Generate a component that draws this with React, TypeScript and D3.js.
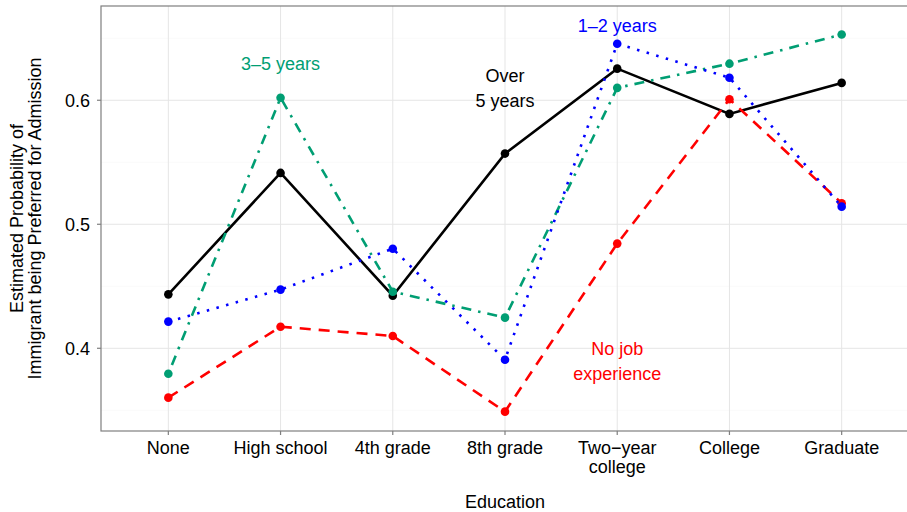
import React from 'react';
import * as d3 from 'd3';

const categories = ['None', 'High school', '4th grade', '8th grade', 'Two−year\ncollege', 'College', 'Graduate'];

const overFive = [0.4435, 0.5414, 0.4424, 0.557, 0.6255, 0.589, 0.614];
const threeToFive = [0.3795, 0.602, 0.4456, 0.4247, 0.61, 0.6295, 0.653];
const oneToTwo = [0.4215, 0.4473, 0.4803, 0.3908, 0.6456, 0.6182, 0.5142];
const noJob = [0.3602, 0.4174, 0.4099, 0.3489, 0.4844, 0.6008, 0.517];

const yTicks = [0.4, 0.5, 0.6];
const yMinor = [0.35, 0.45, 0.55, 0.65];

const series = [
  { name: 'Over 5 years', values: overFive, color: '#000000', dash: null },
  { name: '3–5 years', values: threeToFive, color: '#009E73', dash: '2.5,7,10,7' },
  { name: 'No job experience', values: noJob, color: '#FF0000', dash: '11,8' },
  { name: '1–2 years', values: oneToTwo, color: '#0000FF', dash: '2.5,7.5' },
];

// label placement: category index + value, lines split by \n
const annotations = [
  { text: '3–5 years', cat: 1, value: 0.63, color: '#009E73' },
  { text: '1–2 years', cat: 4, value: 0.66, color: '#0000FF' },
  { text: 'Over\n5 years', cat: 3, value: 0.6095, color: '#000000' },
  { text: 'No job\nexperience', cat: 4, value: 0.3894, color: '#FF0000' },
];

const W = 907;
const H = 512;
const left = 101;
const top = 6;
const bottom = 431;
const right = 909;
const fs = 18;
const font = '"Liberation Sans", Arial, Helvetica, sans-serif';

const App: React.FC = () => {
  const x = d3.scalePoint<string>().domain(categories).range([left, right]).padding(0.6);
  const y = d3.scaleLinear().domain([0.3333, 0.676]).range([bottom, top]);

  const line = d3.line<number>()
    .x((_, i) => x(categories[i]) as number)
    .y(d => y(d));

  return (
    <svg width={W} height={H} style={{ position: 'absolute', left: 0, top: 0, background: '#fff' }} fontFamily={font}>
      {/* grid */}
      {yMinor.map(v => (
        <line key={'mn' + v} x1={left} x2={right} y1={y(v)} y2={y(v)} stroke="#FAFAFA" strokeWidth={1} />
      ))}
      {yTicks.map(v => (
        <line key={'mj' + v} x1={left} x2={right} y1={y(v)} y2={y(v)} stroke="#E5E5E5" strokeWidth={1} />
      ))}
      {categories.map(c => (
        <line key={'gx' + c} x1={x(c)} x2={x(c)} y1={top} y2={bottom} stroke="#E5E5E5" strokeWidth={1} />
      ))}

      {/* panel border */}
      <rect x={left} y={top} width={right - left} height={bottom - top} fill="none" stroke="#7F7F7F" strokeWidth={1.2} />

      {/* series */}
      {series.map(s => (
        <g key={s.name}>
          <path d={line(s.values) as string} fill="none" stroke={s.color} strokeWidth={2.6}
            strokeDasharray={s.dash ?? undefined} />
          {s.values.map((v, i) => (
            <circle key={i} cx={x(categories[i])} cy={y(v)} r={4.3} fill={s.color} />
          ))}
        </g>
      ))}

      {/* annotations */}
      {annotations.map(a => {
        const lines = a.text.split('\n');
        const cy = y(a.value);
        const start = cy - ((lines.length - 1) * 25) / 2;
        return (
          <text key={a.text} textAnchor="middle" fill={a.color} fontSize={fs}>
            {lines.map((l, i) => (
              <tspan key={i} x={x(categories[a.cat])} y={start + i * 25} dy="0.36em">{l}</tspan>
            ))}
          </text>
        );
      })}

      {/* y axis */}
      {yTicks.map(v => (
        <g key={'yt' + v}>
          <line x1={left - 4} x2={left} y1={y(v)} y2={y(v)} stroke="#7F7F7F" strokeWidth={1.2} />
          <text x={left - 11} y={y(v)} dy="0.36em" textAnchor="end" fontSize={fs} fill="#000">{v.toFixed(1)}</text>
        </g>
      ))}
      <text transform={`translate(23, ${(top + bottom) / 2}) rotate(-90)`} textAnchor="middle" fontSize={fs} fill="#000">
        Estimated Probability of
      </text>
      <text transform={`translate(41, ${(top + bottom) / 2}) rotate(-90)`} textAnchor="middle" fontSize={fs} fill="#000">
        Immigrant being Preferred for Admission
      </text>

      {/* x axis */}
      {categories.map(c => (
        <g key={'xt' + c}>
          <line x1={x(c)} x2={x(c)} y1={bottom} y2={bottom + 4} stroke="#7F7F7F" strokeWidth={1.2} />
          <text textAnchor="middle" fontSize={fs} fill="#000">
            {c.split('\n').map((l, i) => (
              <tspan key={i} x={x(c)} y={454 + i * 19}>{l}</tspan>
            ))}
          </text>
        </g>
      ))}
      <text x={(left + right) / 2} y={508} textAnchor="middle" fontSize={fs} fill="#000">Education</text>
    </svg>
  );
};

export default App;
